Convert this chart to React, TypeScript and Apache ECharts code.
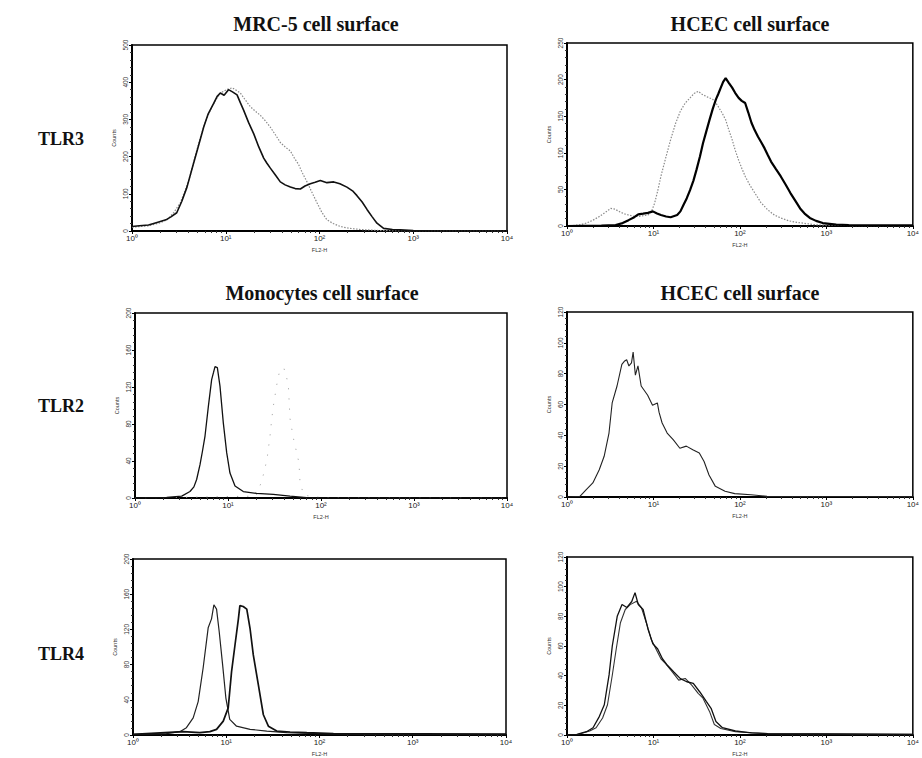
import React, { useEffect, useRef } from "react";
import * as echarts from "echarts";

// ---------- Tick labels ----------
const xTickLabels = ["10⁰", "10¹", "10²", "10³", "10⁴"];
const panelTitles = ["MRC-5 cell surface", "HCEC cell surface", "Monocytes cell surface", "HCEC cell surface"];
const rowLabels = ["TLR3", "TLR2", "TLR4"];
const yMaxes = [500, 250, 200, 120, 200, 120];
const ySteps = [100, 50, 40, 20, 40, 20];

// ---------- Panel 1: MRC-5 TLR3 ----------
const p1StainFL = [1.0, 1.2, 1.5, 1.85, 2.3, 2.6, 3.0, 3.4, 3.86, 4.4, 4.94, 5.4, 5.81, 6.5, 7.43, 8.1, 8.75, 9.6, 10.7, 11.8, 13.2, 14.3, 15.5, 17.5, 19.9, 22.5, 25.4, 27.5, 29.9, 34, 38.2, 43, 48.9, 55, 62.5, 70, 79.8, 90, 102, 120, 142, 165, 196, 225, 251, 285, 321, 365, 410, 483, 600, 728, 1000, 1652, 10000];
const p1StainCounts = [12, 14, 16, 23, 30, 38, 49, 80, 118, 170, 215, 250, 279, 315, 343, 362, 371, 365, 380, 374, 366, 345, 325, 292, 261, 226, 196, 182, 169, 150, 132, 124, 118, 114, 113, 121, 127, 131, 136, 130, 132, 127, 118, 108, 95, 78, 58, 38, 21, 7, 4, 3, 1, 0, 0];
const p1CtrlFL = [1.0, 1.5, 2.0, 2.36, 2.8, 3.28, 3.7, 4.19, 4.7, 5.36, 6.0, 6.85, 7.8, 8.75, 10.2, 11.7, 13.0, 14.3, 16.2, 18.3, 20.7, 23.4, 26.5, 29.9, 34, 38.2, 43, 48.9, 54, 60, 66, 73.6, 83, 94, 106, 120, 140, 167, 200, 231, 275, 321, 450, 1000, 10000];
const p1CtrlCounts = [10, 14, 22, 30, 50, 76, 110, 150, 200, 251, 290, 325, 352, 371, 380, 385, 378, 371, 352, 334, 322, 311, 296, 279, 258, 238, 226, 215, 196, 178, 155, 132, 104, 76, 50, 30, 20, 12, 8, 6, 4, 3, 1, 0, 0];

// ---------- Panel 2: HCEC TLR3 ----------
const p2StainFL = [1, 2.5, 3.65, 4.4, 5.15, 6.0, 6.67, 7.6, 8.64, 9.84, 11, 12.2, 14, 15.8, 18.8, 20.5, 22.3, 24.3, 26.5, 29, 31.5, 34.5, 37.4, 41, 44.5, 48.5, 52.8, 56, 60.1, 64, 68.4, 74, 81.3, 88, 96.6, 105, 115, 125, 136, 148, 162, 177, 193, 210, 229, 260, 296, 340, 384, 440, 497, 560, 644, 760, 909, 1300, 1813, 10000];
const p2StainCounts = [0, 0.5, 1.4, 4, 8, 12, 16, 17, 18, 20, 17, 15, 13, 12, 15, 20, 29, 38, 49, 62, 77, 95, 113, 130, 145, 160, 173, 180, 189, 197, 202, 196, 189, 182, 175, 171, 168, 155, 141, 131, 122, 114, 106, 97, 88, 78, 68, 56, 45, 34, 24, 17, 11, 7, 4, 2, 1.4, 1];
const p2CtrlFL = [1, 1.4, 1.68, 2.0, 2.37, 2.8, 3.2, 3.6, 3.97, 4.5, 5.15, 6.0, 6.67, 7.6, 8.64, 9.5, 10.3, 11.2, 12.2, 14, 15.8, 18, 20.5, 23.3, 26.5, 29.5, 32.9, 36.5, 40.8, 44.5, 48.5, 52.8, 57.6, 62.5, 68.4, 74, 81.3, 88, 96.6, 105, 115, 130, 149, 175, 210, 250, 296, 370, 456, 765, 2000, 10000];
const p2CtrlCounts = [0, 1.5, 4, 8, 13, 19, 24, 23, 20, 17, 15, 13, 13, 14, 15, 20, 31, 48, 68, 95, 118, 140, 157, 168, 175, 181, 184, 180, 177, 175, 173, 168, 161, 154, 145, 132, 118, 104, 90, 79, 68, 56, 45, 32, 22, 15, 11, 7, 5, 1.5, 0.5, 0.5];

// ---------- Panel 3: Monocytes TLR2 ----------
const p3StainFL = [1, 2.19, 3.18, 3.9, 4.3, 4.6, 5.0, 5.3, 5.66, 6.15, 6.67, 7.0, 7.25, 7.68, 8.2, 8.91, 9.68, 10.5, 11.9, 14.6, 20.3, 30.7, 46.4, 70.1, 100, 10000];
const p3StainCounts = [0, 0.7, 2, 7, 12, 20, 36, 50, 67, 99, 128, 136, 142, 141, 121, 81, 49, 27, 13, 7, 5, 4, 2, 0.5, 0, 0];
const p3CtrlFL = [1, 20, 23, 25, 26.5, 28.3, 29.5, 30.7, 33.4, 36.3, 41, 44.6, 46.4, 50.4, 58, 59.4, 65, 100, 10000];
const p3CtrlCounts = [0, 2, 18, 32, 45, 67, 85, 99, 122, 140, 139, 121, 86, 65, 38, 18, 3, 0.5, 0];

// ---------- Panel 4: HCEC TLR2 ----------
const p4StainFL = [1, 1.41, 1.67, 1.99, 2.36, 2.69, 3.06, 3.33, 3.79, 4.31, 4.6, 4.9, 5.2, 5.57, 5.82, 6.18, 6.62, 7.21, 8.57, 9.75, 11.1, 11.6, 12.6, 14.4, 17, 20.2, 24, 28.5, 33.9, 38.5, 43.9, 52, 67.3, 87.1, 134, 206, 10000];
const p4StainCounts = [0, 0.4, 4.8, 9.1, 17.7, 26.4, 41.5, 61, 72, 86, 88, 89, 85, 87, 94, 79, 85, 72, 66, 59.5, 61, 55, 48, 41.5, 37, 31.6, 33, 30.7, 28.5, 23, 14.3, 6.9, 3.7, 2.2, 1.5, 0.4, 0.3];

// ---------- Panel 5: Monocytes TLR4 ----------
const p5CtrlFL = [1, 2.28, 3.18, 3.74, 4.42, 5.0, 5.66, 6.4, 6.95, 7.37, 7.87, 8.41, 9.14, 9.91, 10.9, 12.9, 18, 27.2, 44.5, 93.6, 323, 10000];
const p5CtrlCounts = [0.8, 1.5, 3.8, 8.3, 19.5, 38, 76.7, 121.8, 132, 148, 143, 117, 80, 42, 17.7, 10, 6.4, 4.5, 2.6, 1.5, 0.8, 0.8];
const p5StainFL = [1, 3.45, 5.21, 6.67, 7.87, 9.29, 10.5, 11.4, 12.4, 13.5, 14, 15.2, 16.6, 18, 19.5, 22.1, 25, 28.3, 34.8, 48.4, 73.1, 141, 10000];
const p5StainCounts = [0.8, 3.8, 2.6, 3.8, 6.4, 15.8, 30.8, 72, 102, 132, 147, 146, 143, 121, 91, 57, 23, 10, 4.5, 3.4, 2.6, 1.5, 1.1];

// ---------- Panel 6: HCEC TLR4 ----------
const p6StainFL = [1, 1.3, 1.68, 2.0, 2.37, 2.7, 3.07, 3.34, 3.81, 4.33, 4.93, 5.61, 6.12, 6.67, 7.59, 8.64, 9.84, 11.2, 12.7, 14.5, 17.2, 20.5, 24.3, 28.9, 34.4, 40.8, 46.4, 52.8, 62.8, 88.7, 136, 210, 10000];
const p6StainCounts = [0, 0.4, 2.2, 4.9, 12.6, 20.4, 40.7, 60, 80, 88, 86, 90, 96, 88, 84.6, 71.5, 61.5, 58, 51.4, 47, 42.5, 38, 35.9, 34.8, 29, 22.6, 18, 9.1, 4.9, 2.7, 1.5, 0.9, 0.4];
const p6CtrlFL = [1, 1.3, 1.83, 2.17, 2.58, 2.94, 3.34, 3.71, 4.15, 4.72, 5.38, 6.38, 7.27, 8.27, 9.41, 10.7, 12.2, 13.9, 16.5, 19.6, 23.3, 27.7, 32.9, 37.4, 44.5, 50.6, 60.1, 88.7, 210, 10000];
const p6CtrlCounts = [0, 0.2, 2.7, 4.9, 11.5, 20.4, 40.3, 58, 75.7, 84.6, 87.9, 90.1, 85.7, 75.7, 64.6, 58, 51.4, 48, 42.5, 37, 38.1, 33.6, 28.1, 24.8, 15.9, 7.1, 4.4, 2.2, 0.9, 0.4];

const zip = (xs: number[], ys: number[]) => xs.map((x, i) => [x, ys[i]]);

const gridRects = [
  { left: 132, top: 45, width: 375, height: 186 },
  { left: 567, top: 43, width: 357, height: 183 },
  { left: 135, top: 313, width: 372, height: 185 },
  { left: 567, top: 312, width: 357, height: 185 },
  { left: 133, top: 559, width: 373, height: 180 },
  { left: 567, top: 557, width: 357, height: 182 },
];

export default function App() {
  const ref = useRef<HTMLDivElement>(null);
  useEffect(() => {
    if (!ref.current) return;
    const chart = echarts.init(ref.current, undefined, { renderer: "svg" });
    const serif = "'Liberation Serif', 'DejaVu Serif', serif";
    const sans = "'Liberation Sans', Arial, sans-serif";

    const grids = gridRects.map((r) => ({
      ...r,
      show: true,
      borderColor: "#000",
      borderWidth: 1.5,
      backgroundColor: "#fff",
    }));

    const xAxes = gridRects.map((_, i) => ({
      type: "log",
      logBase: 10,
      min: 1,
      max: 10000,
      gridIndex: i,
      name: "FL2-H",
      nameLocation: "middle",
      nameGap: 16,
      nameTextStyle: { fontSize: 5.5, color: "#333", fontFamily: sans },
      axisLine: { show: true, lineStyle: { color: "#000", width: 2 } },
      axisTick: { show: true, length: 3, lineStyle: { color: "#000", width: 1 } },
      minorTick: { show: true, splitNumber: 9, length: 2, lineStyle: { color: "#333" } },
      axisLabel: {
        fontSize: 8,
        color: "#222",
        margin: 3,
        fontFamily: sans,
        formatter: (v: number) => xTickLabels[Math.round(Math.log10(v))] ?? "",
      },
      splitLine: { show: false },
    }));

    const yAxes = gridRects.map((_, i) => ({
      type: "value",
      min: 0,
      max: yMaxes[i],
      interval: ySteps[i],
      gridIndex: i,
      name: "Counts",
      nameLocation: "middle",
      nameGap: 15,
      nameTextStyle: { fontSize: 5.5, color: "#333", fontFamily: sans },
      axisLine: { show: true, lineStyle: { color: "#000", width: 2 } },
      axisTick: { show: true, length: 3, lineStyle: { color: "#000", width: 1 } },
      minorTick: { show: true, splitNumber: 5, length: 2, lineStyle: { color: "#333" } },
      axisLabel: { rotate: 90, fontSize: 6.5, color: "#333", margin: 3, fontFamily: sans },
      splitLine: { show: false },
    }));

    const line = (name: string, idx: number, xs: number[], ys: number[], style: any) => ({
      name,
      type: "line",
      xAxisIndex: idx,
      yAxisIndex: idx,
      data: zip(xs, ys),
      showSymbol: false,
      symbol: "none",
      lineStyle: style,
      silent: true,
    });

    const dotted = { color: "#8a8a8a", width: 1.2, type: [1.5, 1.5] };
    const series = [
      line("MRC-5 isotype", 0, p1CtrlFL, p1CtrlCounts, dotted),
      line("MRC-5 TLR3", 0, p1StainFL, p1StainCounts, { color: "#111", width: 1.6 }),
      line("HCEC isotype", 1, p2CtrlFL, p2CtrlCounts, dotted),
      line("HCEC TLR3", 1, p2StainFL, p2StainCounts, { color: "#000", width: 2.2 }),
      line("Monocytes isotype", 2, p3CtrlFL, p3CtrlCounts, { color: "#aaa", width: 1, type: [1.2, 9] }),
      line("Monocytes TLR2", 2, p3StainFL, p3StainCounts, { color: "#111", width: 1.3 }),
      line("HCEC TLR2", 3, p4StainFL, p4StainCounts, { color: "#222", width: 1.1 }),
      line("Monocytes isotype", 4, p5CtrlFL, p5CtrlCounts, { color: "#222", width: 1.2 }),
      line("Monocytes TLR4", 4, p5StainFL, p5StainCounts, { color: "#111", width: 1.7 }),
      line("HCEC isotype", 5, p6CtrlFL, p6CtrlCounts, { color: "#333", width: 1.1 }),
      line("HCEC TLR4", 5, p6StainFL, p6StainCounts, { color: "#111", width: 1.3 }),
    ];

    const titleStyle = { fontSize: 20, fontFamily: serif, fontWeight: "bold" as const, color: "#111" };
    const titles = [
      { text: panelTitles[0], left: 316, top: 14, textAlign: "center", padding: 0, textStyle: titleStyle },
      { text: panelTitles[1], left: 750, top: 14, textAlign: "center", padding: 0, textStyle: titleStyle },
      { text: panelTitles[2], left: 322, top: 283, textAlign: "center", padding: 0, textStyle: titleStyle },
      { text: panelTitles[3], left: 740, top: 283, textAlign: "center", padding: 0, textStyle: titleStyle },
      { text: rowLabels[0], left: 38, top: 130, padding: 0, textStyle: { ...titleStyle, fontSize: 18 } },
      { text: rowLabels[1], left: 38, top: 397, padding: 0, textStyle: { ...titleStyle, fontSize: 18 } },
      { text: rowLabels[2], left: 38, top: 645, padding: 0, textStyle: { ...titleStyle, fontSize: 18 } },
    ];

    chart.setOption({
      animation: false,
      backgroundColor: "#fff",
      title: titles,
      grid: grids,
      xAxis: xAxes,
      yAxis: yAxes,
      series,
    });
    return () => chart.dispose();
  }, []);
  return <div ref={ref} style={{ position: "absolute", left: 0, top: 0, width: 922, height: 758 }} />;
}
